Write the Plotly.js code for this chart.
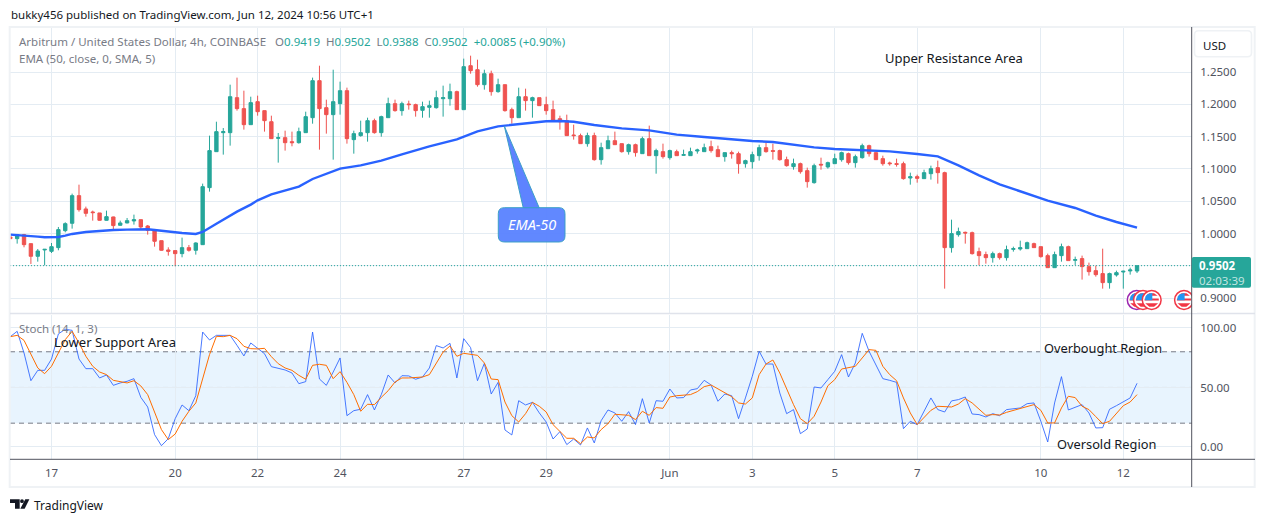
<!DOCTYPE html>
<html>
<head>
<meta charset="utf-8">
<script src="https://cdn.plot.ly/plotly-3.0.1.min.js"></script>
<style>html,body{margin:0;padding:0;background:#fff}#chart{width:1265px;height:522px}</style>
</head>
<body>
<div id="chart"></div>
<script>
// 4h candles, first one on 16 May 2024 00:00
const firstCandle = Date.UTC(2024, 4, 16, 0, 0);
const fourHours = 4 * 3600 * 1000;

const openPrice = [
0.9946,0.9920,0.9982,0.9843,0.9647,0.9745,
0.9724,0.9781,1.0044,1.0158,1.0586,1.0380,1.0333,1.0318,1.0204,1.0256,
1.0127,1.0163,1.0194,1.0214,1.0116,1.0060,0.9889,0.9745,0.9735,0.9688,
0.9781,0.9740,0.9827,1.0710,1.1267,1.1561,1.1561,1.2103,1.1933,1.1685,
1.2041,1.1902,1.1731,1.1473,1.1484,1.1422,1.1406,1.1561,1.1793,1.2366,
1.1948,1.1840,1.2010,1.2211,1.1453,1.1515,1.1561,1.1747,1.1561,1.1793,
1.2010,1.1902,1.2005,1.1995,
1.1907,1.1953,1.1948,1.2087,1.2087,1.2196,1.1917,1.2598,1.2536,1.2304,
1.2474,1.2196,1.2304,1.1917,1.1793,1.2118,1.2057,1.2103,1.1995,1.1917,
1.1778,1.1747,1.1525,1.1515,1.1391,1.1515,1.1143,1.1313,1.1437,1.1391,
1.1267,1.1375,1.1236,1.1468,1.1205,1.1267,1.1174,1.1267,1.1210,1.1205,
1.1277,1.1267,1.1344,1.1298,1.1190,1.1252,1.1236,1.1081,1.1112,1.1205,
1.1329,1.1283,1.1283,1.1143,1.1035,1.1081,1.0973,1.0787,
1.1071,1.1030,1.1081,1.1143,1.1236,1.1097,1.1174,1.1360,1.1252,1.1159,
1.1092,1.1081,1.1081,1.0859,1.0880,1.0849,1.0926,1.1019,1.0942,0.9781,
0.9982,1.0018,1.0013,0.9719,0.9673,0.9626,0.9688,0.9626,0.9755,0.9760,
0.9765,0.9843,0.9796,0.9657,0.9471,0.9657,0.9796,0.9585,0.9611,0.9487,
0.9425,0.9379,0.9239,0.9358,0.9404,0.9420,0.9419];
const highPrice = [
0.9951,0.9993,0.9993,0.9843,0.9760,0.9760,
0.9853,1.0101,1.0173,1.0617,1.0756,1.0416,1.0354,1.0318,1.0354,1.0261,
1.0199,1.0240,1.0292,1.0214,1.0132,1.0070,0.9889,0.9786,0.9735,0.9936,
0.9822,0.9864,1.0772,1.1515,1.1731,1.1633,1.2304,1.2413,1.2211,1.2118,
1.2134,1.1902,1.1824,1.1556,1.1592,1.1577,1.1639,1.1886,1.2413,1.2598,
1.2072,1.2536,1.2351,1.2258,1.1592,1.1747,1.1793,1.1778,1.1824,1.2103,
1.2072,1.2041,1.2057,1.2010,
1.2041,1.2057,1.2211,1.2289,1.2320,1.2211,1.2707,1.2753,1.2691,1.2536,
1.2521,1.2397,1.2304,1.1948,1.2258,1.2242,1.2118,1.2103,1.2118,1.2057,
1.1824,1.1840,1.1685,1.1546,1.1561,1.1561,1.1406,1.1515,1.1577,1.1391,
1.1391,1.1391,1.1499,1.1670,1.1313,1.1391,1.1298,1.1298,1.1298,1.1329,
1.1313,1.1391,1.1437,1.1360,1.1252,1.1283,1.1267,1.1143,1.1267,1.1375,
1.1406,1.1391,1.1298,1.1190,1.1159,1.1097,1.1019,1.1081,
1.1174,1.1112,1.1236,1.1267,1.1252,1.1221,1.1391,1.1375,1.1252,1.1205,
1.1112,1.1159,1.1112,1.0942,1.0911,1.0988,1.1050,1.1128,1.0957,1.0214,
1.0091,1.0029,1.0029,0.9781,0.9719,0.9719,0.9704,0.9812,0.9796,0.9889,
0.9874,0.9858,0.9796,0.9688,0.9719,0.9843,0.9812,0.9642,0.9657,0.9549,
0.9502,0.9765,0.9394,0.9425,0.9425,0.9471,0.9502];
const lowPrice = [
0.9915,0.9843,0.9786,0.9528,0.9564,0.9507,
0.9698,0.9740,1.0018,1.0075,1.0338,1.0261,1.0199,1.0199,1.0199,1.0044,
1.0122,1.0158,1.0137,1.0070,0.9982,0.9796,0.9735,0.9657,0.9492,0.9631,
0.9719,0.9673,0.9822,1.0648,1.1262,1.1221,1.1360,1.1902,1.1608,1.1685,
1.1824,1.1577,1.1468,1.1097,1.1283,1.1350,1.1391,1.1556,1.1700,1.1298,
1.1546,1.1143,1.1840,1.1391,1.1236,1.1499,1.1422,1.1546,1.1499,1.1793,
1.1886,1.1824,1.1917,1.1809,
1.1793,1.1793,1.1933,1.1809,1.1979,1.1917,1.1917,1.2474,1.2273,1.2227,
1.2134,1.2180,1.1886,1.1700,1.1793,1.1902,1.1793,1.1979,1.1840,1.1731,
1.1608,1.1515,1.1453,1.1391,1.1344,1.1128,1.1066,1.1313,1.1375,1.1252,
1.1221,1.1190,1.1236,1.1205,1.0926,1.1159,1.1143,1.1205,1.1205,1.1205,
1.1236,1.1267,1.1252,1.1190,1.1112,1.1159,1.0926,1.1019,1.1004,1.1128,
1.1252,1.1143,1.1128,1.1035,1.0988,1.0926,1.0710,1.0772,
1.0988,1.1004,1.1081,1.1112,1.1066,1.1019,1.1159,1.1190,1.1143,1.1050,
1.1050,1.1035,1.0834,1.0756,1.0787,1.0849,1.0834,1.0772,0.9146,0.9704,
0.9951,0.9843,0.9673,0.9507,0.9533,0.9549,0.9595,0.9580,0.9719,0.9735,
0.9765,0.9781,0.9626,0.9471,0.9471,0.9564,0.9580,0.9513,0.9286,0.9348,
0.9332,0.9146,0.9146,0.9332,0.9146,0.9363,0.9388];
const closePrice = [
0.9920,0.9982,0.9827,0.9647,0.9729,0.9755,
0.9796,1.0060,1.0152,1.0586,1.0369,1.0312,1.0323,1.0204,1.0261,1.0122,
1.0163,1.0199,1.0214,1.0101,1.0049,0.9879,0.9740,0.9724,0.9688,0.9781,
0.9740,0.9853,1.0725,1.1283,1.1577,1.1577,1.2118,1.1933,1.1685,1.2026,
1.1886,1.1747,1.1468,1.1484,1.1406,1.1406,1.1577,1.1809,1.2366,1.1933,
1.1840,1.2041,1.2211,1.1468,1.1546,1.1561,1.1747,1.1561,1.1809,1.2010,
1.1902,1.2010,1.1995,1.1902,
1.1964,1.1979,1.2103,1.2103,1.2196,1.1917,1.2583,1.2521,1.2304,1.2474,
1.2196,1.2304,1.1902,1.1793,1.2118,1.2057,1.2103,1.1979,1.1902,1.1747,
1.1731,1.1515,1.1515,1.1391,1.1515,1.1143,1.1329,1.1437,1.1375,1.1267,
1.1375,1.1252,1.1468,1.1205,1.1283,1.1190,1.1283,1.1205,1.1221,1.1267,
1.1293,1.1329,1.1283,1.1190,1.1252,1.1236,1.1081,1.1128,1.1221,1.1329,
1.1267,1.1272,1.1143,1.1050,1.1081,1.0957,1.0803,1.1050,
1.1061,1.1097,1.1159,1.1252,1.1097,1.1190,1.1360,1.1236,1.1143,1.1081,
1.1081,1.1071,1.0849,1.0880,1.0854,1.0942,1.1004,1.0942,0.9781,0.9998,
1.0029,1.0008,0.9688,0.9657,0.9626,0.9688,0.9626,0.9750,0.9765,0.9781,
0.9858,0.9781,0.9642,0.9471,0.9673,0.9796,0.9580,0.9595,0.9487,0.9409,
0.9363,0.9239,0.9379,0.9394,0.9415,0.9435,0.9502];

// EMA 50, read at the candles listed in emaCandle
const emaCandle = [0,1,4,5,6,7,8,9,11,13,15,17,19,20,21,23,25,27,28,30,33,35,36,38,40,42,44,46,48,51,54,57,61,65,68,71,72,75,78,80,82,85,89,93,97,101,105,108,111,114,117,120,124,128,132,135,138,141,144,147,150,151,155,158,161,164];
const emaValue = [0.9982,0.9977,0.9951,0.9941,0.9941,0.9946,0.9967,0.9993,1.0024,1.0044,1.0054,1.0060,1.0065,1.0065,1.0054,1.0029,1.0008,0.9993,1.0024,1.0152,1.0338,1.0447,1.0514,1.0607,1.0668,1.0725,1.0844,1.0926,1.1004,1.1055,1.1128,1.1226,1.1350,1.1458,1.1582,1.1659,1.1670,1.1711,1.1737,1.1742,1.1731,1.1680,1.1628,1.1597,1.1530,1.1494,1.1453,1.1432,1.1417,1.1375,1.1334,1.1308,1.1293,1.1272,1.1231,1.1195,1.1055,1.0901,1.0761,1.0653,1.0550,1.0509,1.0395,1.0276,1.0178,1.0091];

const stochK = [
92.7,97.2,79.0,55.7,64.4,64.4,
73.9,95.0,98.9,98.0,73.9,65.8,65.8,58.0,60.5,51.8,53.8,55.2,57.4,41.7,33.6,10.4,1.1,7.0,23.8,35.3,30.5,43.1,96.6,89.9,93.8,93.8,93.8,85.4,76.5,87.4,83.2,78.4,67.5,66.4,64.7,62.2,53.2,54.9,96.6,57.1,51.8,63.0,74.8,26.3,30.5,31.7,44.0,31.1,44.0,60.5,53.8,59.9,59.7,56.9,
58.8,66.4,85.2,83.2,87.1,58.0,91.0,83.5,55.7,70.3,44.5,54.3,14.3,10.1,38.9,35.3,37.5,28.6,21.0,6.7,12.9,2.0,6.7,1.7,16.0,3.4,22.1,31.1,28.6,21.6,29.7,18.8,40.6,20.2,38.9,38.4,48.7,41.2,41.5,47.9,49.0,56.0,52.1,38.4,44.5,43.1,23.8,41.2,59.4,80.4,69.7,69.7,45.4,28.0,31.4,11.2,15.1,50.4,49.6,56.6,63.6,
77.6,58.8,70.6,95.5,80.4,68.6,57.4,56.0,54.3,15.4,21.6,18.8,30.0,41.2,31.4,29.4,38.7,39.8,42.0,27.7,27.2,25.2,28.0,26.3,31.4,31.9,32.8,36.4,37.0,21.6,4.2,37.0,59.1,31.1,33.3,35.6,28.6,16.0,16.2,31.7,34.7,37.8,41.2,53.5];
const stochD = [
92.7,93.8,89.6,77.6,66.4,61.6,
67.8,79.0,90.2,97.2,87.4,76.2,67.8,63.0,60.8,56.0,54.6,53.8,55.7,51.3,44.0,28.6,14.6,6.2,10.9,21.6,30.0,37.0,56.6,77.6,93.0,92.7,93.8,91.0,84.6,82.6,82.4,82.9,75.9,70.0,66.4,64.4,60.2,56.9,68.6,69.5,68.6,57.4,63.3,54.3,44.0,30.0,35.9,35.6,41.7,47.3,54.6,58.0,58.0,58.5,
58.8,60.8,70.6,79.8,84.9,76.2,78.7,77.6,77.0,70.6,57.1,56.6,37.8,26.3,21.0,28.0,37.5,34.2,29.4,18.8,13.2,7.3,7.3,2.8,8.4,7.6,14.6,19.6,27.5,27.2,26.6,23.0,30.0,26.6,33.1,32.5,42.0,43.1,43.7,44.0,46.5,50.7,52.1,49.0,45.4,42.3,37.0,36.1,41.2,60.8,69.7,73.1,62.2,48.2,35.6,23.8,19.6,25.8,37.8,51.5,56.6,
65.5,66.4,67.8,74.8,81.8,81.2,67.8,60.8,55.7,41.2,28.6,18.8,25.2,30.8,34.2,34.2,33.6,36.1,40.6,37.0,32.2,26.6,27.2,26.9,29.1,30.8,32.8,34.5,35.6,30.8,20.2,20.2,32.8,42.6,41.5,34.2,31.4,25.5,19.6,21.6,28.0,34.7,37.8,44.0];

const dateTicks = ['2024-05-17','2024-05-20','2024-05-22','2024-05-24','2024-05-27','2024-05-29','2024-06-01','2024-06-03','2024-06-05','2024-06-07','2024-06-10','2024-06-12'];
const dateTickLabels = ['17','20','22','24','27','29','Jun','3','5','7','10','12'];
const priceTicks = [0.90,0.95,1.00,1.05,1.10,1.15,1.20,1.25];
const priceTickLabels = ['0.9000','','1.0000','1.0500','1.1000','1.1500','1.2000','1.2500'];
const stochTicks = [0,50,100];
const stochTickLabels = ['0.00','50.00','100.00'];
const stochLevels = [20,50,80];
const lastPrice = 0.9502;

const W = 1265, H = 522;
const FONT = '"Noto Sans", sans-serif';
const INK = '#131722', MUTED = '#787b86', AXIS = '#50535e', GRID = '#e4ecf3';
const UP = '#26a69a', DOWN = '#ef5350';
const px = x => x / W, py = y => 1 - y / H;
const times = openPrice.map((_, i) => new Date(firstCandle + i * fourHours).toISOString());

const traces = [
  {type:'candlestick', x:times, open:openPrice, high:highPrice, low:lowPrice, close:closePrice,
   xaxis:'x', yaxis:'y', whiskerwidth:0, hoverinfo:'skip',
   increasing:{line:{color:UP,width:1},fillcolor:UP},
   decreasing:{line:{color:DOWN,width:1},fillcolor:DOWN}},
  {type:'scatter', mode:'lines', x:emaCandle.map(i => times[i]), y:emaValue, xaxis:'x', yaxis:'y',
   line:{color:'#2962ff',width:2.4}, hoverinfo:'skip'},
  {type:'scatter', mode:'lines', x:times, y:stochK, xaxis:'x', yaxis:'y2',
   line:{color:'#2962ff',width:1}, opacity:0.85, hoverinfo:'skip'},
  {type:'scatter', mode:'lines', x:times, y:stochD, xaxis:'x', yaxis:'y2',
   line:{color:'#ff6d00',width:1}, hoverinfo:'skip'}
];

const paperRect = (x0,y0,x1,y1,o) => Object.assign({type:'rect',xref:'paper',yref:'paper',x0:px(x0),x1:px(x1),y0:py(y0),y1:py(y1),line:{width:0}},o);
const paperLine = (x0,y0,x1,y1,color,width) => ({type:'line',xref:'paper',yref:'paper',x0:px(x0),x1:px(x1),y0:py(y0),y1:py(y1),line:{color:color,width:width||1},layer:'above'});
const pathOf = pts => pts.map((p,i)=>(i?'L':'M')+px(p[0]).toFixed(5)+','+py(p[1]).toFixed(5)).join(' ')+' Z';
const roundBox = (x0,y0,x1,y1,r) => {
  const X=v=>px(v).toFixed(5), Y=v=>py(v).toFixed(5);
  return `M${X(x0+r)},${Y(y0)} L${X(x1-r)},${Y(y0)} Q${X(x1)},${Y(y0)} ${X(x1)},${Y(y0+r)} L${X(x1)},${Y(y1-r)} Q${X(x1)},${Y(y1)} ${X(x1-r)},${Y(y1)} L${X(x0+r)},${Y(y1)} Q${X(x0)},${Y(y1)} ${X(x0)},${Y(y1-r)} L${X(x0)},${Y(y0+r)} Q${X(x0)},${Y(y0)} ${X(x0+r)},${Y(y0)} Z`;
};
const pathShape = (path,fill,line,lw) => ({type:'path',xref:'paper',yref:'paper',path:path,fillcolor:fill,line:{color:line||fill,width:lw||0},layer:'above'});
const circle = (cx,cy,r,fill,line,lw) => ({type:'circle',xref:'paper',yref:'paper',x0:px(cx-r),x1:px(cx+r),y0:py(cy+r),y1:py(cy-r),fillcolor:fill,line:{color:line||fill,width:lw||0},layer:'above'});
// one red band of the flag, cut to the disc of radius r
const stripe = (cx,cy,r,a,b) => {
  const half = d => Math.sqrt(Math.max(0,r*r-d*d));
  return pathShape(pathOf([[cx-half(a),cy+a],[cx+half(a),cy+a],[cx+half(b),cy+b],[cx-half(b),cy+b]]),'#f23645');
};
const flagIcon = (cx,cy,ring) => [
  circle(cx,cy,9.4,'#ffffff',ring,1.5),
  circle(cx,cy,7.2,'#ffffff'),
  stripe(cx,cy,7.2,-6.8,-4.2),
  stripe(cx,cy,7.2,-1.6,0.6),
  stripe(cx,cy,7.2,3.2,6.8),
  pathShape(pathOf([[cx-6.8,cy+0.2],[cx-6.4,cy-3.2],[cx-4,cy-6],[cx+0.6,cy-7],[cx+0.6,cy+0.2]]),'#2196f3')
];

const shapes = [
  paperRect(10,351.3,1192,423.3,{fillcolor:'rgba(33,150,243,0.1)',layer:'below'}),
  ...stochLevels.map(v => ({type:'line',xref:'paper',yref:'y2',x0:px(10),x1:px(1192),y0:v,y1:v,
     line:{color:v===50?'rgba(120,123,134,0.7)':'#787b86',width:1,dash:'5px,4px'},layer:'below'})),
  {type:'line',xref:'paper',yref:'y',x0:px(10),x1:px(1192),y0:lastPrice,y1:lastPrice,line:{color:UP,width:1,dash:'1px,2px'},layer:'above'},
  paperRect(9.7,27,1254.7,487,{fillcolor:'rgba(0,0,0,0)',line:{color:'#eff2f5',width:2},layer:'above'}),
  paperLine(10,313.6,1255,313.6,'#e0e3eb',1.5),
  paperLine(10,459.3,1255,459.3,AXIS,1),
  ...flagIcon(1136.7,300,'#9c27b0'),
  ...flagIcon(1143,300,'#f23645'),
  ...flagIcon(1151.7,300,'#f23645'),
  ...flagIcon(1184,300,'#f23645'),
  paperRect(1192,288,1197,313,{fillcolor:'#ffffff',layer:'above'}),
  paperLine(1191.7,27,1191.7,487,AXIS,1),
  pathShape(roundBox(1194.5,30.7,1251.5,56.7,4),'#ffffff','#eff2f5',1.6),
  // price tag
  pathShape(roundBox(1191.7,257,1251,287.7,2),UP),
  // EMA-50 callout
  pathShape(pathOf([[504.3,126],[523.3,208],[539.3,208]]),'rgba(72,114,255,0.88)','#3c9fc7',1),
  pathShape(roundBox(498.3,207.7,565,242,6),'rgba(88,130,255,0.95)','#3c9fc7',1),
  // TradingView logo
  pathShape(pathOf([[10,499.3],[19.7,499.3],[19.7,508.7],[15,508.7],[15,503],[10,503]]),'#131722'),
  circle(22,501.2,1.9,'#131722'),
  pathShape(pathOf([[25.3,499.3],[29.4,499.3],[24.6,508.7],[20.3,508.7]]),'#131722')
];

const label = (text,x,y,size,color,extra) => Object.assign({xref:'paper',yref:'paper',x:px(x),y:py(y),text:text,showarrow:false,
  xanchor:'left',yanchor:'middle',borderpad:0,align:'left',font:{family:FONT,size:size,color:color}},extra||{});
const v = s => `<span style="color:${UP}">${s}</span>`;

const annotations = [
  label('bukky456 published on TradingView.com, Jun 12, 2024 10:56 UTC+1',9.5,14,11.5,INK),
  label(`Arbitrum / United States Dollar, 4h, COINBASE`,17.5,41.5,11.5,MUTED),
  label(`O${v('0.9419')}  H${v('0.9502')}  L${v('0.9388')}  C${v('0.9502')}  ${v('+0.0085 (+0.90%)')}`,274,41.5,11.5,MUTED),
  label('EMA (50, close, 0, SMA, 5)',17.5,59,11.5,MUTED),
  label('Stoch (14, 1, 3)',17.5,328,11.5,MUTED),
  label('Upper Resistance Area',883.5,57.5,13,INK),
  label('Lower Support Area',52.5,341.5,13.1,INK),
  label('Overbought Region',1042.5,347.5,12.8,INK),
  label('Oversold Region',1055.5,443.5,12.8,INK),
  label('<i>EMA-50</i>',531.7,224.5,14.5,'#ffffff',{xanchor:'center'}),
  label('USD',1214.5,45,11.5,INK,{xanchor:'center'}),
  label('<b>0.9502</b>',1198,265,11.5,'#ffffff'),
  label('02:03:39',1198,280,11.5,'rgba(255,255,255,0.72)'),
  label('TradingView',33,505,12,INK)
];

const layout = {
  width:W, height:H, autosize:false, margin:{l:0,r:0,t:0,b:0,pad:0},
  paper_bgcolor:'#ffffff', plot_bgcolor:'#ffffff', showlegend:false, dragmode:false,
  font:{family:FONT,color:AXIS},
  xaxis:{type:'date',domain:[px(10),px(1192)],anchor:'y2',range:['2024-05-15 23:50','2024-06-13 16:00'],
    rangeslider:{visible:false},tickmode:'array',tickvals:dateTicks,ticktext:dateTickLabels,
    showgrid:true,gridcolor:GRID,gridwidth:1,zeroline:false,showline:false,ticks:'outside',ticklen:3,tickcolor:'rgba(0,0,0,0)',
    tickfont:{family:FONT,size:11.5,color:AXIS},tickangle:0},
  yaxis:{domain:[py(313),py(27)],anchor:'x',side:'right',range:[0.8769,1.3197],tickmode:'array',tickvals:priceTicks,ticktext:priceTickLabels,
    showgrid:true,gridcolor:GRID,gridwidth:1,zeroline:false,showline:false,ticks:'outside',ticklen:5,tickcolor:'rgba(0,0,0,0)',
    tickfont:{family:FONT,size:11.5,color:AXIS}},
  yaxis2:{domain:[py(459),py(315)],anchor:'x',side:'right',range:[-10.1,110.9],tickmode:'array',tickvals:stochTicks,ticktext:stochTickLabels,
    showgrid:true,gridcolor:GRID,gridwidth:1,zeroline:false,showline:false,ticks:'outside',ticklen:5,tickcolor:'rgba(0,0,0,0)',
    tickfont:{family:FONT,size:11.5,color:AXIS}},
  shapes:shapes, annotations:annotations
};
Plotly.newPlot('chart',traces,layout,{staticPlot:true,displayModeBar:false});
</script>
</body>
</html>
